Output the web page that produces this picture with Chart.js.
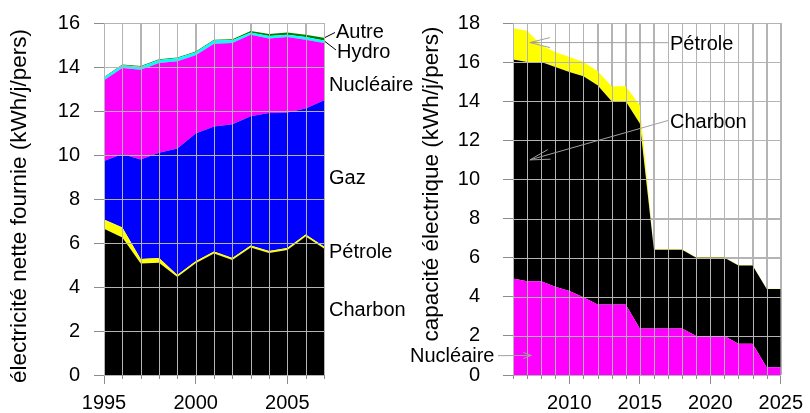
<!DOCTYPE html>
<html>
<head>
<meta charset="utf-8">
<script src="https://cdn.jsdelivr.net/npm/chart.js@4.4.1/dist/chart.umd.min.js"></script>
<style>
  html, body { margin: 0; padding: 0; background: #fff; }
  #wrap { position: relative; width: 810px; height: 413px; overflow: hidden; }
  canvas { position: absolute; top: 0; }
  #supplyChart { left: 0; }
  #capacityChart { left: 400px; }
</style>
</head>
<body>
<div id="wrap">
  <canvas id="supplyChart" width="430" height="413"></canvas>
  <canvas id="capacityChart" width="410" height="413"></canvas>
</div>
<script>
// left: electricite nette fournie, 1995-2007 (stacked, kWh/j/pers)
const supplyYears = [1995, 1996, 1997, 1998, 1999, 2000, 2001, 2002, 2003, 2004, 2005, 2006, 2007];
const supplyCharbon = [6.65, 6.25, 5.07, 5.10, 4.45, 5.08, 5.52, 5.23, 5.80, 5.55, 5.68, 6.30, 5.75];
const supplyPetrole = [0.42, 0.45, 0.20, 0.22, 0.10, 0.09, 0.09, 0.09, 0.09, 0.09, 0.09, 0.09, 0.09];
const supplyGaz = [2.66, 3.34, 4.53, 4.78, 5.74, 5.81, 5.69, 6.08, 5.87, 6.27, 6.16, 5.72, 6.65];
const supplyNucleaire = [3.67, 3.92, 4.08, 4.08, 3.97, 3.55, 3.76, 3.69, 3.71, 3.38, 3.43, 3.13, 2.60];
const supplyHydro = [0.12, 0.12, 0.13, 0.14, 0.14, 0.14, 0.14, 0.13, 0.10, 0.12, 0.11, 0.12, 0.12];
const supplyAutre = [0.03, 0.03, 0.03, 0.03, 0.03, 0.04, 0.04, 0.04, 0.07, 0.09, 0.10, 0.11, 0.12];
const supplyTicks = [0, 2, 4, 6, 8, 10, 12, 14, 16];

// right: capacite electrique, 2006-2025 (stacked, kWh/j/pers)
const capacityYears = [2006, 2007, 2008, 2009, 2010, 2011, 2012, 2013, 2014, 2015, 2016, 2017, 2018, 2019, 2020, 2021, 2022, 2023, 2024, 2025];
const capacityNucleaire = [4.94, 4.80, 4.80, 4.51, 4.29, 3.97, 3.61, 3.61, 3.61, 2.38, 2.38, 2.38, 2.38, 2.00, 2.00, 2.00, 1.60, 1.60, 0.40, 0.40];
const capacityCharbon = [11.19, 11.20, 11.20, 11.24, 11.21, 11.31, 11.21, 10.39, 10.39, 10.48, 4.02, 4.02, 4.02, 4.00, 4.00, 4.00, 4.00, 4.00, 4.00, 4.00];
const capacityPetrole = [1.60, 1.60, 0.86, 0.77, 0.76, 0.73, 0.73, 0.77, 0.77, 0.94, 0.03, 0.03, 0.03, 0.02, 0.02, 0.02, 0.02, 0.02, 0.01, 0.01];
const capacityTicks = [0, 2, 4, 6, 8, 10, 12, 14, 16, 18];

const fontFamily = '"Liberation Sans", Arial, Helvetica, sans-serif';
const gridColor = '#b4b4b4';
const tickMarkColor = '#8c8c8c';

Chart.defaults.font.family = fontFamily;
Chart.defaults.color = '#000';

const area = (label, data, color, first) => ({
    label: label,
    data: data,
    backgroundColor: color,
    borderColor: 'transparent',
    borderWidth: 0,
    pointRadius: 0,
    tension: 0,
    fill: first ? 'origin' : '-1'
});

// grid over the areas, axis title, minor x ticks, text notes and arrows
const notesPlugin = (years, title, notes, arrows) => ({
    id: 'notes',
    afterDraw(chart) {
        const ctx = chart.ctx;
        const xs = chart.scales.x;
        const ys = chart.scales.y;
        const box = chart.chartArea;
        ctx.save();

        // the reference shows the grid on top of the filled areas
        ctx.strokeStyle = gridColor;
        ctx.lineWidth = 1;
        ctx.beginPath();
        xs.ticks.forEach((t, i) => {
            const px = Math.round(xs.getPixelForTick(i)) + 0.5;
            ctx.moveTo(px, box.top);
            ctx.lineTo(px, box.bottom);
        });
        ys.ticks.forEach((t, i) => {
            const py = Math.round(ys.getPixelForTick(i)) + 0.5;
            ctx.moveTo(box.left, py);
            ctx.lineTo(box.right, py);
        });
        ctx.stroke();

        // short ticks for the unlabelled years
        ctx.strokeStyle = tickMarkColor;
        ctx.beginPath();
        years.forEach((yr, i) => {
            if (yr % 5 === 0) return;
            const px = Math.round(xs.getPixelForValue(i)) + 0.5;
            ctx.moveTo(px, box.bottom);
            ctx.lineTo(px, box.bottom + 4);
        });
        ctx.stroke();

        ctx.fillStyle = '#000';
        ctx.save();
        ctx.translate(title.x, title.y);
        ctx.rotate(-Math.PI / 2);
        ctx.font = '22.5px ' + fontFamily;
        ctx.textAlign = 'center';
        ctx.textBaseline = 'middle';
        ctx.fillText(title.text, 0, 0);
        ctx.restore();

        ctx.font = '20px ' + fontFamily;
        ctx.textBaseline = 'alphabetic';
        notes.forEach(n => ctx.fillText(n.text, n.x, n.y));
        arrows.forEach(a => {
            const tx = a.tip ? xs.getPixelForValue(a.tip[0]) : a.to[0];
            const ty = a.tip ? ys.getPixelForValue(a.tip[1]) : a.to[1];
            ctx.strokeStyle = a.color;
            ctx.lineWidth = 1;
            ctx.beginPath();
            ctx.moveTo(a.from[0], a.from[1]);
            ctx.lineTo(tx, ty);
            if (a.head) {
                const ang = Math.atan2(a.from[1] - ty, a.from[0] - tx);
                const spread = Math.atan2(a.head[1], a.head[0]);
                const len = Math.hypot(a.head[0], a.head[1]);
                ctx.moveTo(tx + len * Math.cos(ang + spread), ty + len * Math.sin(ang + spread));
                ctx.lineTo(tx, ty);
                ctx.lineTo(tx + len * Math.cos(ang - spread), ty + len * Math.sin(ang - spread));
            }
            ctx.stroke();
        });
        ctx.restore();
    }
});

const axisOptions = (years, yTicks, yMax, yWidth, labelPad) => ({
    x: {
        type: 'category',
        offset: false,
        afterFit: (scale) => { scale.height = 38; },
        border: { color: gridColor },
        grid: {
            color: gridColor,
            tickLength: 9,
            tickColor: (c) => (years[c.index] % 5 === 0 ? tickMarkColor : 'transparent')
        },
        ticks: {
            autoSkip: false,
            maxRotation: 0,
            padding: 7,
            font: { size: 20 },
            callback: (val, idx) => (years[idx] % 5 === 0 ? String(years[idx]) : '')
        }
    },
    y: {
        stacked: true,
        min: 0,
        max: yMax,
        afterFit: (scale) => {
            scale.width = yWidth;
            scale.paddingTop = 0;
            scale.paddingBottom = 0;
        },
        afterBuildTicks: (scale) => { scale.ticks = yTicks.map(v => ({ value: v })); },
        border: { color: gridColor },
        grid: { color: gridColor, tickLength: 10, tickColor: tickMarkColor },
        ticks: { padding: labelPad, font: { size: 20 } }
    }
});

const supplyChart = new Chart(document.getElementById('supplyChart').getContext('2d'), {
    type: 'line',
    data: {
        labels: supplyYears,
        datasets: [
            area('Charbon', supplyCharbon, '#000000', true),
            area('Pétrole', supplyPetrole, '#ffff00'),
            area('Gaz', supplyGaz, '#0000ff'),
            area('Nucléaire', supplyNucleaire, '#ff00ff'),
            area('Hydro', supplyHydro, '#00ffff'),
            area('Autre', supplyAutre, '#008000')
        ]
    },
    options: {
        responsive: false,
        animation: false,
        layout: { padding: { top: 23, right: 106, left: 0, bottom: 0 } },
        plugins: { legend: { display: false }, tooltip: { enabled: false } },
        scales: axisOptions(supplyYears, supplyTicks, 16, 104, 14)
    },
    plugins: [notesPlugin(
        supplyYears,
        { text: 'électricité nette fournie (kWh/j/pers)', x: 20, y: 206 },
        [
            { text: 'Autre', x: 336, y: 38 },
            { text: 'Hydro', x: 337, y: 58 },
            { text: 'Nucléaire', x: 329, y: 91 },
            { text: 'Gaz', x: 329, y: 184 },
            { text: 'Pétrole', x: 329, y: 258 },
            { text: 'Charbon', x: 329, y: 316 }
        ],
        [
            { from: [335, 32.5], to: [325, 37.5], color: '#000' },
            { from: [336, 50], to: [325, 41.5], color: '#000' }
        ]
    )]
});

const capacityChart = new Chart(document.getElementById('capacityChart').getContext('2d'), {
    type: 'line',
    data: {
        labels: capacityYears,
        datasets: [
            area('Nucléaire', capacityNucleaire, '#ff00ff', true),
            area('Charbon', capacityCharbon, '#000000'),
            area('Pétrole', capacityPetrole, '#ffff00')
        ]
    },
    options: {
        responsive: false,
        animation: false,
        layout: { padding: { top: 23, right: 27, left: 0, bottom: 0 } },
        plugins: { legend: { display: false }, tooltip: { enabled: false } },
        scales: axisOptions(capacityYears, capacityTicks, 18, 113, 23)
    },
    plugins: [notesPlugin(
        capacityYears,
        { text: 'capacité électrique (kWh/j/pers)', x: 32, y: 184 },
        [
            { text: 'Pétrole', x: 270, y: 50 },
            { text: 'Charbon', x: 270, y: 128 },
            { text: 'Nucléaire', x: 10, y: 362 }
        ],
        [
            { from: [268, 42.7], tip: [1.2, 17], head: [20, 5], color: '#a0a0a0' },
            { from: [268, 120.5], tip: [1.2, 11], head: [20, 5], color: '#a0a0a0' },
            { from: [98, 355.7], tip: [1.3, 1], head: [8, 3], color: '#a0a0a0' }
        ]
    )]
});
</script>
</body>
</html>
